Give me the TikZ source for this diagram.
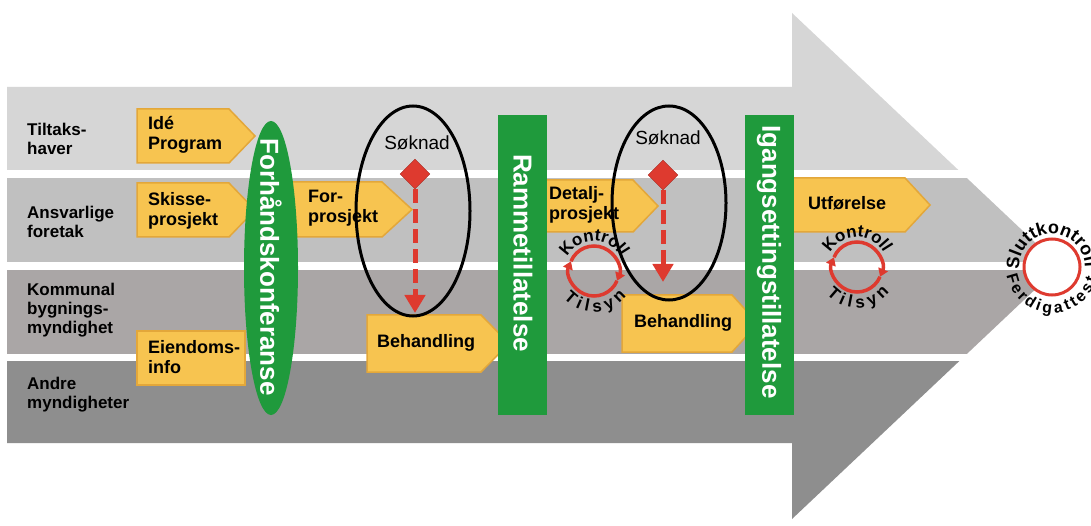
\documentclass[tikz,border=0pt]{standalone}
\usepackage{fontspec}
\setmainfont{Liberation Sans}
\usetikzlibrary{arrows.meta,shapes.geometric,decorations.text}
\definecolor{bandA}{HTML}{D6D6D6}
\definecolor{bandB}{HTML}{C0C0C0}
\definecolor{bandC}{HTML}{AAA6A6}
\definecolor{bandD}{HTML}{8E8E8E}
\definecolor{gul}{HTML}{F7C450}
\definecolor{gulkant}{HTML}{E3A73A}
\definecolor{gronn}{HTML}{1F9A3C}
\definecolor{rod}{HTML}{DE3A2F}
\newcommand\sirkelfont{\bfseries\fontsize{17}{17}\selectfont}
\newcommand\sluttfont{\bfseries\fontsize{18}{18}\selectfont}
\newcommand\attestfont{\bfseries\fontsize{16}{16}\selectfont}
\tikzset{
  rolle/.style={anchor=west, align=left, inner sep=0, font=\bfseries\fontsize{17}{19}\selectfont},
  boks/.style={fill=gul, draw=gulkant, line width=1.5},
  bokstekst/.style={anchor=west, align=left, inner sep=0, font=\bfseries\fontsize{18}{20}\selectfont},
  vedtak/.style={text=white, rotate=-90, inner sep=0, font=\bfseries\fontsize{26}{26}\selectfont},
  rute/.style={diamond, fill=rod, draw=rod!75!black, minimum size=30, inner sep=0},
  rodpil/.style={rod, line width=5, dash pattern=on 14 off 6, -{Triangle[length=18, width=20]}},
  syklus/.style={rod, line width=3.5, -{Triangle[length=8, width=10]}}
}
\begin{document}
\begin{tikzpicture}[x=1pt, y=1pt]
\useasboundingbox (0,0) rectangle (1091,525);
\fill[white] (0,0) rectangle (1091,525);
\begin{scope}
  \clip (7,438) -- (792,438) -- (792,512) -- (1060,259) -- (792,6) -- (792,82) -- (7,82) -- cycle;
  \fill[bandA] (0,355) rectangle (1091,525);
  \fill[bandB] (0,263) rectangle (1091,347);
  \fill[bandC] (0,171) rectangle (1091,255);
  \fill[bandD] (0,0) rectangle (1091,164);
\end{scope}
\foreach \xa/\xb/\xc/\yo/\yu in {137/229/255/416/362, 137/229/255/342/288, 290/382/412/343/288,
    367/481/509/210/153, 545/633/658/345/293, 622/732/758/230/173, 790/905/930/347/293}
  \filldraw[boks] (\xa,\yo) -- (\xb,\yo) -- (\xc,{(\yo+\yu)/2}) -- (\xb,\yu) -- (\xa,\yu) -- cycle;
\filldraw[boks] (137,194) rectangle (245,140);
\fill[gronn] (271,257) ellipse[x radius=27, y radius=147];
\fill[gronn] (498,110) rectangle (547,410);
\fill[gronn] (745,110) rectangle (794,410);
\node[vedtak] (forhand) at (271,258) {Forhåndskonferanse};
\node[vedtak] (ramme) at (523,272) {Rammetillatelse};
\node[vedtak] (igang) at (769,263) {Igangsettingstillatelse};
\node[rolle] (tiltak) at (27,386) {Tiltaks-\\haver};
\node[rolle] (ansvar) at (27,303) {Ansvarlige\\foretak};
\node[rolle] (kommune) at (27,215) {Kommunal\\bygnings-\\myndighet};
\node[rolle] (andre) at (27,130) {Andre\\myndigheter};
\node[bokstekst] (ide) at (148,390) {Idé\\Program};
\node[bokstekst] (skisse) at (148,314) {Skisse-\\prosjekt};
\node[bokstekst] (eiendom) at (148,168) {Eiendoms-\\info};
\node[bokstekst] (forprosj) at (308,317) {For-\\prosjekt};
\node[bokstekst] (behand1) at (377,182) {Behandling};
\node[bokstekst] (detalj) at (549,320) {Detalj-\\prosjekt};
\node[bokstekst] (behand2) at (634,202) {Behandling};
\node[bokstekst] (utfor) at (808,322) {Utførelse};
\node[font=\fontsize{19}{19}\selectfont] (soknad1) at (417,382) {Søknad};
\node[font=\fontsize{19}{19}\selectfont] (soknad2) at (668,387) {Søknad};
\draw[line width=3] (413,314) ellipse[x radius=57, y radius=105];
\draw[line width=3] (669,322) ellipse[x radius=57, y radius=97];
\node[rute] (rute1) at (415,351) {};
\node[rute] (rute2) at (663,350) {};
\coordinate (pil1) at (415,212);
\coordinate (pil2) at (663,243);
\draw[rodpil] (rute1) -- (pil1);
\draw[rodpil] (rute2) -- (pil2);
\foreach \cx/\cy in {594/254, 857/258} {
  \draw[syklus] ([shift={(337:25)}]\cx,\cy) arc[start angle=337, end angle=157, radius=25];
  \draw[syklus] ([shift={(157:25)}]\cx,\cy) arc[start angle=157, end angle=-23, radius=25];
  \path[decorate, decoration={text along path, text align=center, text={|\sirkelfont|Kontroll}}]
    ([shift={(215:30)}]\cx,\cy) arc[start angle=215, end angle=-35, radius=30];
  \path[decorate, decoration={text along path, text align=fit to path, text={|\sirkelfont|Tilsyn}}]
    ([shift={(222:41)}]\cx,\cy) arc[start angle=222, end angle=322, radius=41];
}
\draw[rod, line width=3, fill=white] (1052,258) circle[radius=28];
\path[decorate, decoration={text along path, text align=left, text={|\sluttfont|Sluttkontroll}}]
  ([shift={(184:33)}]1052,258) arc[start angle=184, end angle=-40, radius=33];
\path[decorate, decoration={text along path, text align=fit to path, text={|\attestfont|Ferdigattest}}]
  ([shift={(190:46)}]1052,258) arc[start angle=190, end angle=345, radius=46];
\end{tikzpicture}
\end{document}
